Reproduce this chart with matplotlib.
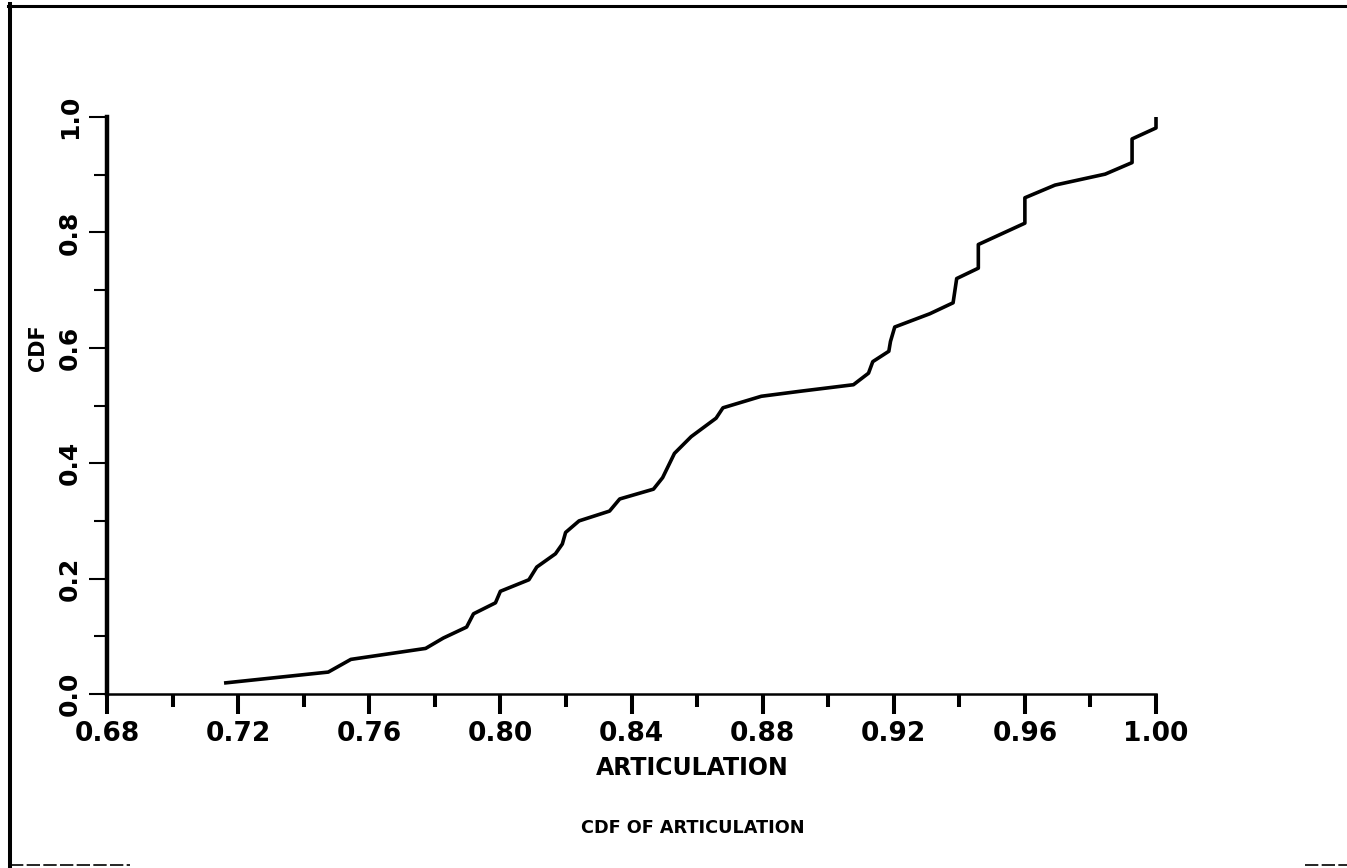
import matplotlib
matplotlib.use("Agg")
import matplotlib.pyplot as plt
from matplotlib.lines import Line2D
import numpy as np

# Empirical CDF of articulation scores
articulation = [0.7157, 0.7475, 0.7544, 0.7772, 0.7826, 0.7897, 0.7918, 0.7985,
                0.8000, 0.8087, 0.8111, 0.8168, 0.8189, 0.8199, 0.8240, 0.8333,
                0.8364, 0.8467, 0.8495, 0.8531, 0.8582, 0.8658, 0.8679, 0.8796,
                0.8919, 0.9077, 0.9123, 0.9136, 0.9185, 0.9190, 0.9203, 0.9310,
                0.9381, 0.9392, 0.9458, 0.9458, 0.9600, 0.9600, 0.9692, 0.9845,
                0.9927, 0.9927, 1.0000, 1.0000]
cdf = [0.019, 0.038, 0.060, 0.079, 0.097, 0.116, 0.139, 0.158,
       0.178, 0.198, 0.220, 0.243, 0.260, 0.280, 0.300, 0.317,
       0.338, 0.355, 0.375, 0.417, 0.446, 0.478, 0.496, 0.516,
       0.525, 0.536, 0.556, 0.576, 0.594, 0.611, 0.636, 0.659,
       0.678, 0.720, 0.738, 0.779, 0.816, 0.860, 0.882, 0.901,
       0.921, 0.962, 0.981, 1.000]

x_major = [0.68, 0.72, 0.76, 0.80, 0.84, 0.88, 0.92, 0.96, 1.00]
x_minor = [0.70, 0.74, 0.78, 0.82, 0.86, 0.90, 0.94, 0.98]
y_major = [0.0, 0.2, 0.4, 0.6, 0.8, 1.0]
y_minor = [0.1, 0.3, 0.5, 0.7, 0.9]

x_label = "ARTICULATION"
y_label = "CDF"
title = "CDF OF ARTICULATION"

plt.rcParams['font.family'] = ['DejaVu Sans']
plt.rcParams['font.weight'] = 'bold'

W, H = 1347, 868
fig = plt.figure(figsize=(W / 100, H / 100), dpi=100)
fig.patch.set_facecolor('white')

ax = fig.add_axes([107 / W, (H - 694) / H, 1049 / W, 577 / H])
ax.set_xlim(x_major[0], x_major[-1])
ax.set_ylim(y_major[0], y_major[-1])

ax.plot(articulation, cdf, color='black', lw=2.6, solid_joinstyle='round',
        solid_capstyle='butt', clip_on=False)

for side in ('top', 'right'):
    ax.spines[side].set_visible(False)
ax.spines['left'].set_bounds(y_major[0], y_major[-1])
ax.spines['bottom'].set_bounds(x_major[0], x_major[-1])
ax.spines['left'].set_linewidth(3.2)
ax.spines['bottom'].set_linewidth(1.8)

ax.set_xticks(x_major)
ax.set_xticks(x_minor, minor=True)
ax.set_xticklabels([f"{v:.2f}" for v in x_major])
ax.set_yticks(y_major)
ax.set_yticks(y_minor, minor=True)
ax.set_yticklabels([f"{v:.1f}" for v in y_major], rotation=90, va='center')

ax.tick_params(axis='x', which='major', direction='out', length=14.5, width=2.9,
               pad=5, labelsize=19)
ax.tick_params(axis='x', which='minor', direction='out', length=9.5, width=2.9)
ax.tick_params(axis='y', which='major', direction='out', length=13, width=1.5,
               pad=5, labelsize=18)
ax.tick_params(axis='y', which='minor', direction='out', length=9.5, width=1.5)
for lbl in ax.get_xticklabels() + ax.get_yticklabels():
    lbl.set_fontweight('bold')

# axis captions and title placed in figure pixels
fig.text(692 / W, 1 - 768 / H, x_label, ha='center', va='center',
         fontsize=17, fontweight='bold')
fig.text(38 / W, 1 - 348 / H, y_label, ha='center', va='center', rotation=90,
         fontsize=15, fontweight='bold')
fig.text(693 / W, 1 - 828 / H, title, ha='center', va='center',
         fontsize=12.7, fontweight='bold')

# page frame
fig.add_artist(Line2D([10 / W, 10 / W], [0, 1 - 4 / H], transform=fig.transFigure,
                      color='black', lw=2.9))
fig.add_artist(Line2D([8 / W, 1], [1 - 5.5 / H, 1 - 5.5 / H], transform=fig.transFigure,
                      color='black', lw=2.2))
fig.add_artist(Line2D([10 / W, 130 / W], [3 / H, 3 / H], transform=fig.transFigure,
                      color='black', lw=1.2, ls=(0, (8, 2))))
fig.add_artist(Line2D([1305 / W, 1], [3 / H, 3 / H], transform=fig.transFigure,
                      color='black', lw=1.2, ls=(0, (8, 2))))

fig.savefig("out.png", dpi=100, facecolor='white')
